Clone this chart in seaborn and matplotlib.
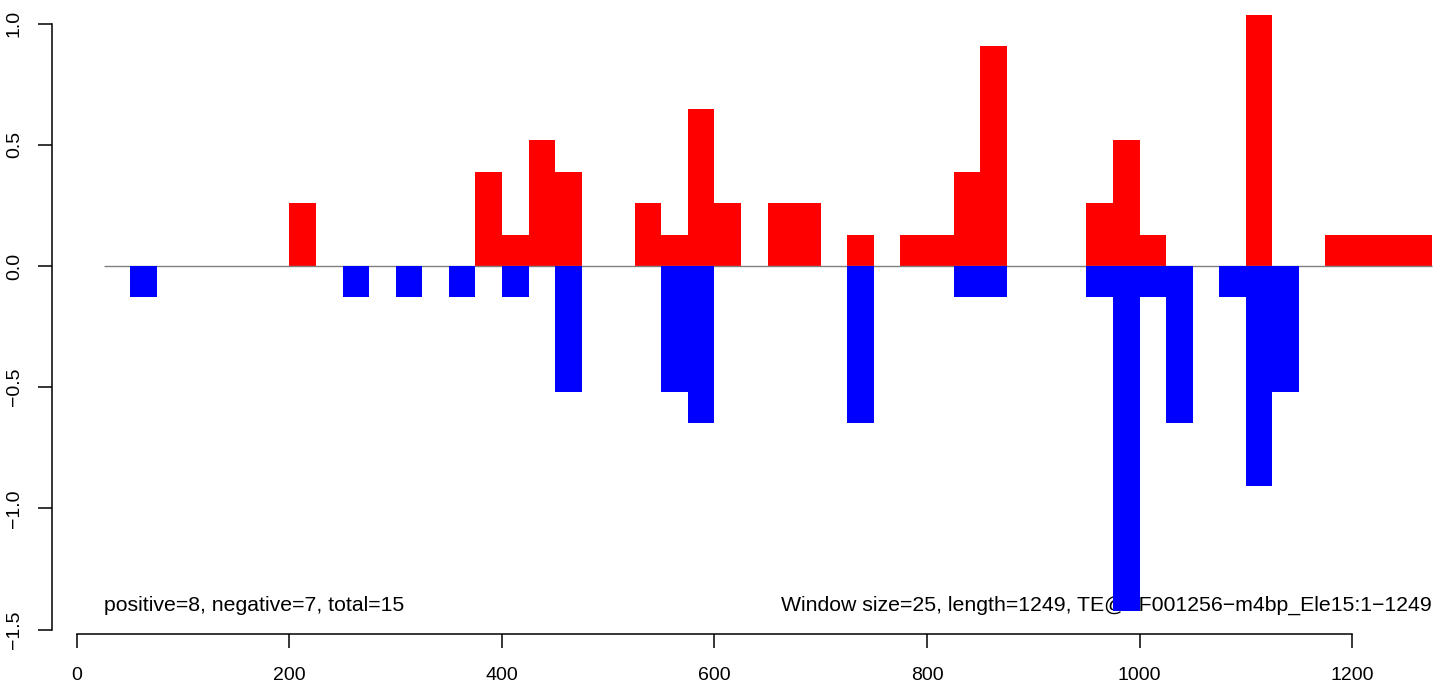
import numpy as np
import pandas as pd
import matplotlib
matplotlib.use("Agg")
import matplotlib.pyplot as plt
import seaborn as sns

# window starts (size 25) and scores
pos_start = [200, 375, 400, 425, 450, 525, 550, 575, 600, 650, 675, 725, 775, 800,
             825, 850, 950, 975, 1000, 1100, 1175, 1200, 1225, 1250]
pos_score = [0.259, 0.388, 0.129, 0.518, 0.388, 0.259, 0.129, 0.647, 0.259, 0.259, 0.259, 0.129, 0.129, 0.129,
             0.388, 0.906, 0.259, 0.518, 0.129, 1.035, 0.129, 0.129, 0.129, 0.129]

neg_start = [50, 250, 300, 350, 400, 450, 550, 575, 725, 825, 850, 950, 975, 1000,
             1025, 1075, 1100, 1125]
neg_score = [-0.129, -0.129, -0.129, -0.129, -0.129, -0.518, -0.518, -0.647, -0.647, -0.129, -0.129, -0.129, -1.424, -0.129,
             -0.647, -0.129, -0.906, -0.518]

window = 25
seq_len = 1249
x_ticks = [0, 200, 400, 600, 800, 1000, 1200]
y_ticks = [-1.5, -1.0, -0.5, 0.0, 0.5, 1.0]
left_note = "positive=8, negative=7, total=15"
right_note = "Window size=25, length=1249, TE@TF001256\u2212m4bp_Ele15:1\u22121249"

pos_df = pd.DataFrame({"mid": np.array(pos_start) + window / 2, "score": pos_score})
neg_df = pd.DataFrame({"mid": np.array(neg_start) + window / 2, "score": neg_score})

sns.set_style("ticks")
plt.rcParams['font.family'] = ['Liberation Sans', 'DejaVu Sans']
plt.rcParams['text.color'] = 'black'
plt.rcParams['axes.edgecolor'] = 'black'
plt.rcParams['xtick.color'] = 'black'
plt.rcParams['ytick.color'] = 'black'

fig = plt.figure(figsize=(14.49, 6.84), dpi=100)
ax = fig.add_axes([52 / 1449, 50 / 684, 1388 / 1449, 629 / 684])

sns.barplot(data=pos_df, x="mid", y="score", native_scale=True, width=1,
            color="#ff0000", saturation=1, errorbar=None, linewidth=0, ax=ax, zorder=2)
ax.hlines(0, 25, 1275, color="#808080", linewidth=1, zorder=3)
ax.text(25, -1.4, left_note, ha="left", va="center", fontsize=15.3, color="black", zorder=4)
ax.text(1275, -1.4, right_note, ha="right", va="center", fontsize=15.3, color="black", zorder=4)
sns.barplot(data=neg_df, x="mid", y="score", native_scale=True, width=1,
            color="#0000ff", saturation=1, errorbar=None, linewidth=0, ax=ax, zorder=5)

ax.set_xlim(-23.5, 1282.8)
ax.set_ylim(-1.518, 1.077)
ax.set_xlabel("")
ax.set_ylabel("")
ax.set_xticks(x_ticks)
ax.set_xticklabels([str(v) for v in x_ticks])
ax.set_yticks(y_ticks)
ax.set_yticklabels([f"{v:.1f}".replace("-", "\u2212") for v in y_ticks], rotation=90, va="center")

for s in ["top", "right"]:
    ax.spines[s].set_visible(False)
ax.spines["left"].set_bounds(-1.5, 1.0)
ax.spines["bottom"].set_bounds(0, 1200)
ax.spines["left"].set_linewidth(1.1)
ax.spines["bottom"].set_linewidth(1.1)
ax.tick_params(axis="both", length=10, width=1.1, labelsize=14, colors="black")
ax.tick_params(axis="x", pad=14)
ax.tick_params(axis="y", pad=11)

fig.savefig("out.png", dpi=100)
